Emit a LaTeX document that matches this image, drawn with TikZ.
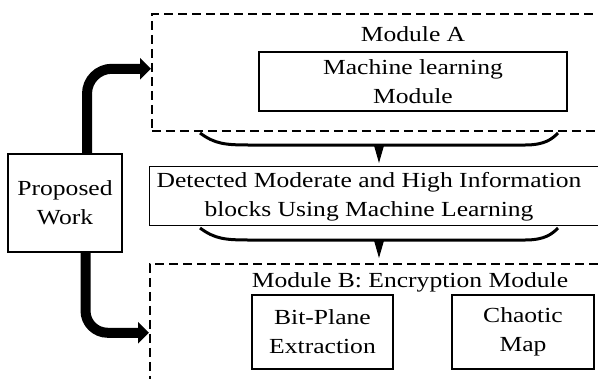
\documentclass[tikz,border=0pt]{standalone}
\usepackage{fontspec}
\setmainfont{Liberation Serif}[FakeStretch=1.19]
\usetikzlibrary{positioning,arrows.meta}
\newcommand{\blockfont}{\fontsize{21.5bp}{29bp}\selectfont}
\tikzset{
    module box/.style={draw, dash pattern=on 9bp off 5bp, line width=1.5bp, anchor=north west, inner sep=0pt},
    frame box/.style={draw, line width=1.3bp, anchor=north west, inner sep=0pt},
    block/.style={draw, line width=1.3bp, align=center, inner sep=0pt, font=\blockfont},
    label text/.style={font=\blockfont, align=center, inner sep=0pt},
    thick arrow/.style={-{Triangle[length=11bp,width=21bp]}, line width=10bp},
    bracket/.style={line width=3bp},
    small arrow/.style={-{Triangle[length=18bp,width=10bp]}, line width=1bp}
}

\begin{document}
\begin{tikzpicture}[x=1bp, y=-1bp]
    \useasboundingbox (0,0) rectangle (598,378);
    \clip (0,0) rectangle (598,378);

    % Module A
    \node[module box, minimum width=470bp, minimum height=117bp] (modA) at (151,13) {};
    \node[label text, anchor=base] (modAlabel) at (413,41) {Module A};
    \node[block, minimum width=308bp, minimum height=59bp] (ml) at (413,81.5) {Machine learning\\Module};

    % Detected blocks
    \node[frame box, minimum width=470bp, minimum height=59bp] (detect) at (149,166) {};
    \node[label text] (detecttext) at (369,197) {Detected Moderate and High Information\\blocks Using Machine Learning};

    % Module B
    \node[module box, minimum width=470bp, minimum height=138bp] (modB) at (149,263) {};
    \node[label text, anchor=base] (modBlabel) at (410,287) {Module B: Encryption Module};
    \node[block, minimum width=141bp, minimum height=74bp] (bitplane) at (322.5,332) {Bit-Plane\\Extraction};
    \node[block, minimum width=142bp, minimum height=74bp] (chaotic) at (523,332) {Chaotic\\Map};

    % Proposed work
    \node[block, minimum width=114bp, minimum height=98bp] (prop) at (65,203) {Proposed\\Work};

    % Thick arrows
    \draw[thick arrow, rounded corners=25bp] ([xshift=22bp]prop.north) |- ([yshift=3.5bp]modA.west);
    \draw[thick arrow, rounded corners=22bp] ([xshift=20.5bp]prop.south) |- (modB.west);

    % Brackets
    \coordinate (brAl) at (200,133);
    \coordinate (brAm) at (379,145);
    \coordinate (brAr) at (558,133);
    \draw[bracket] (brAl) .. controls +(15,11) and +(-25,0) .. ++(50,12) -- ++(275,0)
        .. controls +(20,0) and +(-6,6) .. (brAr);
    \draw[small arrow, shorten >=3bp] (brAm) -- (brAm |- detect.north);

    \coordinate (brBl) at (200,228);
    \coordinate (brBm) at (379,240);
    \coordinate (brBr) at (558,228);
    \draw[bracket] (brBl) .. controls +(15,11) and +(-25,0) .. ++(50,12) -- ++(275,0)
        .. controls +(20,0) and +(-6,6) .. (brBr);
    \draw[small arrow, shorten >=5bp] (brBm) -- (brBm |- modB.north);
\end{tikzpicture}
\end{document}
